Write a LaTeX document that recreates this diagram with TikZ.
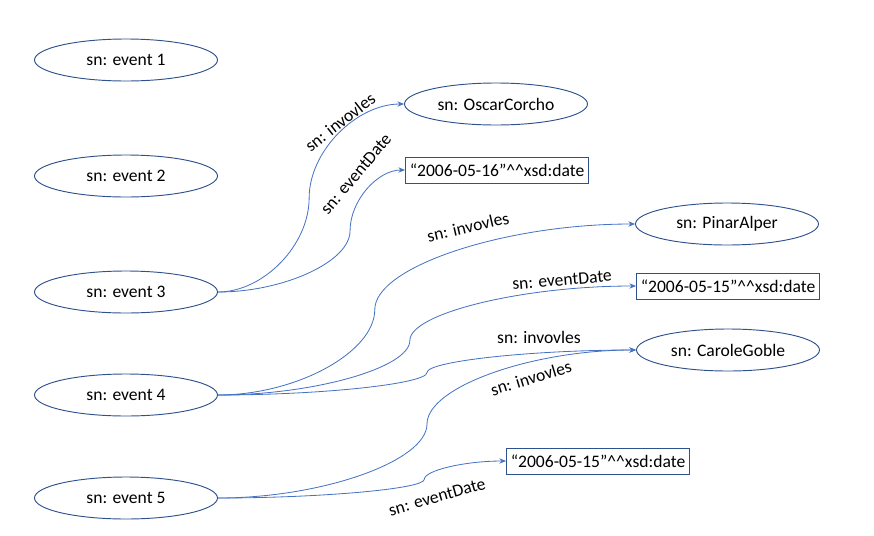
\documentclass[tikz,border=0pt]{standalone}
\usepackage{fontspec}
\setmainfont{Carlito}
\usetikzlibrary{shapes.geometric,arrows.meta,calc}

\definecolor{shapeblue}{HTML}{2F528F}
\definecolor{linkblue}{HTML}{4472C4}

% curved connector, #3 = where the bend sits between the two ends
\newcommand\bentlink[3]{%
  \draw[link] let \p1=(#1), \p2=(#2), \p3=($(#1)!#3!(#2)$), \p4=($(#1)!.5!(#2)$) in
    (\p1) .. controls ({(\x1+\x3)/2},\y1) and (\x3,{(\y1+\y4)/2}) .. (\x3,\y4)
    .. controls (\x3,{(\y4+\y2)/2}) and ({(\x3+\x2)/2},\y2) .. (\p2);}

\begin{document}
\begin{tikzpicture}[x=0.3mm,y=-0.3mm,font=\fontsize{15}{18}\selectfont,
    entity/.style={ellipse,draw=shapeblue,line width=0.8pt,minimum width=54.9mm,minimum height=12.6mm,inner sep=0pt},
    literal/.style={rectangle,draw=shapeblue,line width=0.8pt,minimum width=54.9mm,minimum height=7.8mm,inner sep=1pt},
    link/.style={draw=linkblue,line width=0.7pt,-{Stealth[length=2mm,width=1.6mm]}},
    prop/.style={inner sep=0pt}]

    \useasboundingbox (0,0) rectangle (874,535);

    \node (ev1) at (126,60) [entity] {sn: event 1};
    \node (ev2) at (126,176) [entity] {sn: event 2};
    \node (ev3) at (126,292) [entity] {sn: event 3};
    \node (ev4) at (126,395) [entity] {sn: event 4};
    \node (ev5) at (126,498) [entity] {sn: event 5};

    \node (oscar) at (496,104) [entity] {sn: OscarCorcho};
    \node (pinar) at (727,224) [entity] {sn: PinarAlper};
    \node (carole) at (728,350) [entity] {sn: CaroleGoble};

    \node (date1) at (497,170) [literal] {“2006-05-16”\^{}\^{}xsd:date};
    \node (date2) at (728,286) [literal] {“2006-05-15”\^{}\^{}xsd:date};
    \node (date3) at (598,461) [literal] {“2006-05-15”\^{}\^{}xsd:date};

    \bentlink{ev3.east}{oscar.west}{0.49}
    \bentlink{ev3.east}{date1.west}{0.706}
    \bentlink{ev4.east}{pinar.west}{0.376}
    \bentlink{ev4.east}{date2.west}{0.459}
    \bentlink{ev4.east}{carole.west}{0.5}
    \bentlink{ev5.east}{carole.west}{0.5}
    \bentlink{ev5.east}{date3.west}{0.716}

    \node (p1) at (340,122) [prop,rotate=38] {sn: invovles};
    \node (p2) at (356,174) [prop,rotate=50] {sn: eventDate};
    \node (p3) at (468,227) [prop,rotate=13] {sn: invovles};
    \node (p4) at (562,280) [prop,rotate=5] {sn: eventDate};
    \node (p5) at (539,337) [prop] {sn: invovles};
    \node (p6) at (531,378) [prop,rotate=17] {sn: invovles};
    \node (p7) at (437,497) [prop,rotate=16] {sn: eventDate};
  \end{tikzpicture}
\end{document}
